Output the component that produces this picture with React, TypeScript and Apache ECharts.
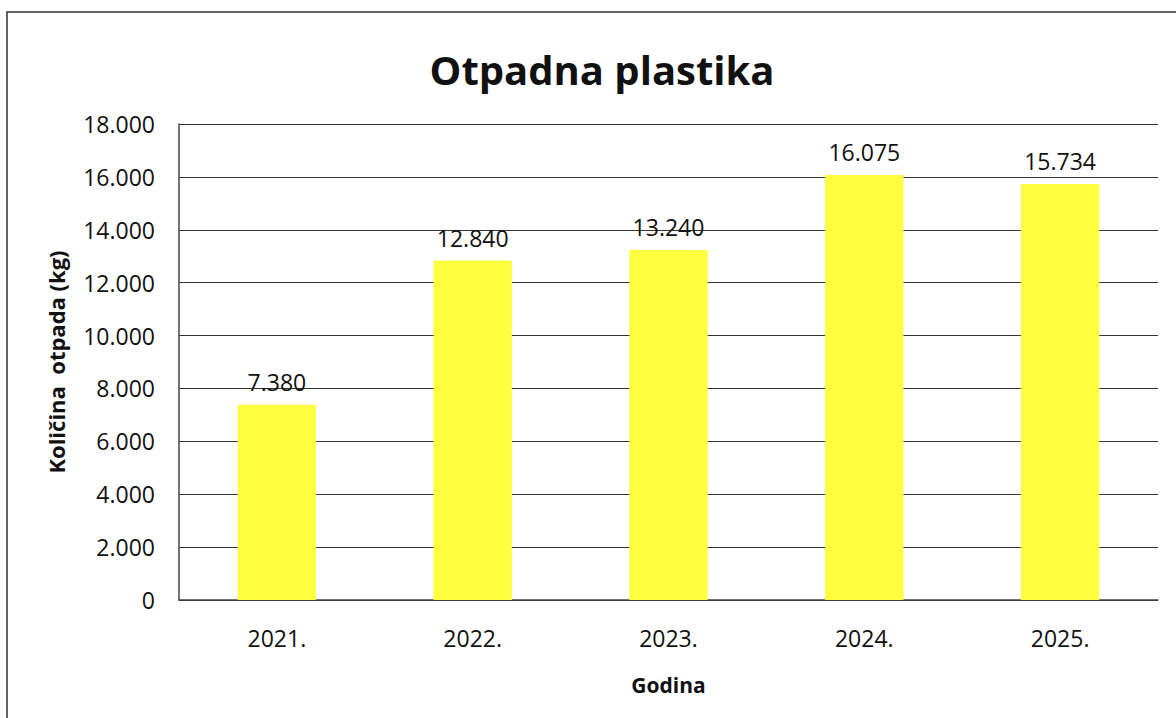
import React, { useEffect, useRef } from "react";
import * as echarts from "echarts";

const categories = ["2021.", "2022.", "2023.", "2024.", "2025."];
const values = [7380, 12840, 13240, 16075, 15734];
const titleText = "Otpadna plastika";
const yAxisName = "Količina  otpada (kg)";
const xAxisName = "Godina";

const fmt = (v: number) =>
  Math.round(v).toString().replace(/\B(?=(\d{3})+(?!\d))/g, ".");

export default function App() {
  const ref = useRef<HTMLDivElement>(null);
  useEffect(() => {
    if (!ref.current) return;
    const chart = echarts.init(ref.current, null, { renderer: "svg" });
    const font = "'Open Sans', Lato, sans-serif";
    chart.setOption({
      animation: false,
      backgroundColor: "#ffffff",
      textStyle: { fontFamily: font },
      title: {
        text: titleText,
        left: 597,
        textAlign: "center",
        top: 44,
        textStyle: { fontSize: 40, fontWeight: "bold", color: "#111", fontFamily: font },
      },
      graphic: [
        {
          type: "rect",
          shape: { x: 7, y: 12, width: 1200, height: 760 },
          style: { fill: "none", stroke: "#333", lineWidth: 1.5 },
          silent: true,
        },
      ],
      grid: { left: 179, right: 18, top: 124, bottom: 118 },
      xAxis: {
        type: "category",
        data: categories,
        name: xAxisName,
        nameLocation: "middle",
        nameGap: 74,
        nameTextStyle: { fontSize: 21, fontWeight: "bold", color: "#111", fontFamily: font },
        axisLine: { show: true, lineStyle: { color: "#444", width: 1.5 } },
        axisTick: { show: false },
        axisLabel: { fontSize: 23, color: "#111", margin: 26, fontFamily: font },
      },
      yAxis: {
        type: "value",
        min: 0,
        max: 18000,
        interval: 2000,
        name: yAxisName,
        nameLocation: "middle",
        nameGap: 112,
        nameTextStyle: { fontSize: 22, fontWeight: "bold", color: "#111", fontFamily: font },
        axisLine: { show: true, lineStyle: { color: "#444", width: 1.5 } },
        axisTick: { show: false },
        splitLine: { show: true, lineStyle: { color: "#333", width: 1.2 } },
        axisLabel: { fontSize: 23, color: "#111", margin: 24, formatter: (v: number) => fmt(v), fontFamily: font },
      },
      series: [
        {
          type: "bar",
          data: values,
          barWidth: "40%",
          itemStyle: { color: "#FFFF40" },
          label: {
            show: true,
            position: "top",
            distance: 11,
            fontSize: 23,
            color: "#111",
            fontFamily: font,
            formatter: (p: any) => fmt(p.value),
          },
        },
      ],
    });
    return () => chart.dispose();
  }, []);
  return (
    <div
      ref={ref}
      style={{ position: "absolute", left: 0, top: 0, width: 1176, height: 718 }}
    />
  );
}
